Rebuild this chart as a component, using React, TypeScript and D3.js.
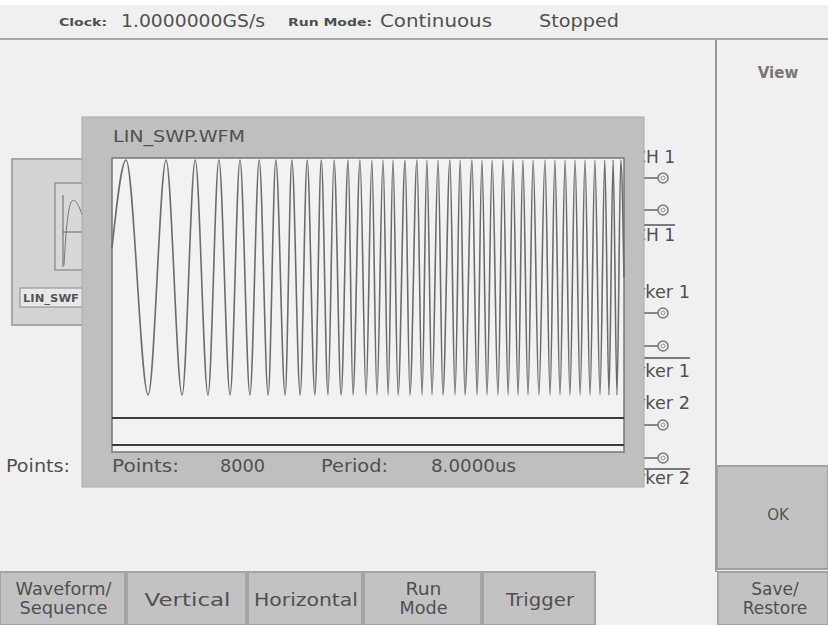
import * as React from 'react';
import * as d3 from 'd3';

// waveform record: LIN_SWP.WFM, 8000 points, linear frequency sweep
const totalPoints = 8000;
const startLevel = 0.25;
const endLevel = 0;
// sample index of each positive peak
const peakIndex = [220, 845, 1300, 1670, 2000, 2300, 2560, 2810, 3050, 3270, 3470, 3690, 3875, 4060, 4235, 4390,
  4580, 4765, 4920, 5095, 5280, 5440, 5625, 5780, 5940, 6110, 6265, 6420, 6580, 6765, 6920, 7080, 7235, 7390,
  7545, 7700, 7830, 7950];
// sample index of each negative peak
const troughIndex = [565, 1095, 1500, 1845, 2155, 2440, 2705, 2940, 3170, 3375, 3580, 3765, 3970, 4140, 4315,
  4470, 4655, 4845, 5000, 5170, 5360, 5515, 5705, 5860, 6030, 6190, 6345, 6500, 6670, 6845, 7000, 7155, 7315,
  7470, 7625, 7765, 7890];
const marker1 = [0, 0];
const marker2 = [0, 0];

const statusItems = [
  { label: 'Clock:', value: '1.0000000GS/s' },
  { label: 'Run Mode:', value: 'Continuous' },
];
const stateText = 'Stopped';
const bottomTabs = [['Waveform/', 'Sequence'], ['Vertical'], ['Horizontal'], ['Run', 'Mode'], ['Trigger']];
const channelLabels = ['CH 1', 'Marker 1', 'Marker 2'];
const infoRow = ['Points:', '8000', 'Period:', '8.0000us'];

const FONT = "'DejaVu Sans', 'Liberation Sans', sans-serif";
const TXT = '#505050';

export default function App() {
  const x = d3.scaleLinear().domain([0, totalPoints]).range([112, 624]);
  const y = d3.scaleLinear().domain([-1, 1]).range([395, 160]);
  const m1 = d3.scaleLinear().domain([0, 1]).range([418, 405]);
  const m2 = d3.scaleLinear().domain([0, 1]).range([445, 432]);

  const pts: [number, number][] = [[0, startLevel]];
  peakIndex.forEach((p, i) => {
    pts.push([p, 1]);
    if (i < troughIndex.length) pts.push([troughIndex[i], -1]);
  });
  pts.push([totalPoints, endLevel]);

  const line = d3.line<[number, number]>()
    .x(d => x(d[0]))
    .y(d => y(d[1]))
    .curve(d3.curveMonotoneX);

  const markerLine = (sc: d3.ScaleLinear<number, number>, vals: number[]) =>
    d3.line<number>().x((_, i) => x(i * totalPoints / (vals.length - 1))).y(v => sc(v))(vals) || '';

  const tabEdges = [0, 127, 248, 364, 483, 597];
  const tabTextW = [[96, 88], [86], [104], [36, 48], [68]];

  // side connector labels (mostly hidden behind the dialog)
  const sideGroups = [
    { top: 163, c1: 178, c2: 210, bar: 225, bottom: 241, end: 675, w: 41 },
    { top: 298, c1: 313, c2: 346, bar: 358, bottom: 377, end: 690, w: 78 },
    { top: 409, c1: 425, c2: 458, bar: 469, bottom: 484, end: 690, w: 78 },
  ];

  return (
    <svg width={828} height={625} style={{ position: 'absolute', left: 0, top: 0 }} fontFamily={FONT}>
      <rect x={0} y={0} width={828} height={625} fill="#f0f0f0" />
      <rect x={0} y={0} width={828} height={5} fill="#ffffff" />
      <line x1={0} x2={828} y1={39} y2={39} stroke="#a8a8a8" strokeWidth={2} />

      {/* status bar */}
      <text x={59} y={26} fontSize={11} fontWeight="bold" fill={TXT} textLength={48} lengthAdjust="spacingAndGlyphs">{statusItems[0].label}</text>
      <text x={121} y={27} fontSize={18} fill={TXT} textLength={144} lengthAdjust="spacingAndGlyphs">{statusItems[0].value}</text>
      <text x={288} y={26} fontSize={11} fontWeight="bold" fill={TXT} textLength={84} lengthAdjust="spacingAndGlyphs">{statusItems[1].label}</text>
      <text x={380} y={27} fontSize={18} fill={TXT} textLength={112} lengthAdjust="spacingAndGlyphs">{statusItems[1].value}</text>
      <text x={539} y={27} fontSize={18} fill={TXT} textLength={80} lengthAdjust="spacingAndGlyphs">{stateText}</text>

      {/* right view panel */}
      <line x1={716} x2={716} y1={40} y2={572} stroke="#9a9a9a" strokeWidth={2} />
      <text x={778} y={78} fontSize={15} fontWeight="bold" fill="#777" textAnchor="middle">View</text>
      <rect x={717} y={466} width={111} height={103} fill="#c2c2c2" stroke="#a0a0a0" strokeWidth={2} />
      <text x={778} y={520} fontSize={15} fill="#555" textAnchor="middle">OK</text>

      {/* background waveform thumbnail panel */}
      <rect x={12} y={159} width={120} height={166} fill="#d3d3d3" stroke="#a8a8a8" strokeWidth={2} />
      <rect x={55} y={183} width={60} height={87} fill="#d8d8d8" stroke="#777" strokeWidth={1} />
      <line x1={63} x2={63} y1={195} y2={267} stroke="#666" />
      <line x1={63} x2={110} y1={232} y2={232} stroke="#666" />
      <path d="M64,265 C66,230 68,205 72,201 C75,198 79,205 82,215" fill="none" stroke="#777" />
      <rect x={20} y={288} width={80} height={19} fill="#e8e8e8" stroke="#888" />
      <text x={23} y={302} fontSize={10} fontWeight="bold" fill="#555" textLength={56} lengthAdjust="spacingAndGlyphs">LIN_SWF</text>
      <text x={6} y={472} fontSize={18} fill={TXT} textLength={64} lengthAdjust="spacingAndGlyphs">Points:</text>

      {/* side connector labels */}
      {sideGroups.map((g, i) => (
        <g key={i} fill={TXT} stroke="none">
          <text x={g.end - g.w} y={g.top} fontSize={17} textLength={g.w} lengthAdjust="spacingAndGlyphs">{channelLabels[i]}</text>
          <text x={g.end - g.w} y={g.bottom} fontSize={17} textLength={g.w} lengthAdjust="spacingAndGlyphs">{channelLabels[i]}</text>
          <line x1={620} x2={g.end} y1={g.bar} y2={g.bar} stroke="#555" strokeWidth={1.5} />
          {[g.c1, g.c2].map(cy => (
            <g key={cy}>
              <line x1={640} x2={658} y1={cy} y2={cy} stroke="#666" strokeWidth={1.5} />
              <circle cx={663} cy={cy} r={5} fill="none" stroke="#777" strokeWidth={1.5} />
              <circle cx={663} cy={cy} r={2} fill="none" stroke="#999" />
            </g>
          ))}
        </g>
      ))}

      {/* dialog */}
      <rect x={82} y={117} width={562} height={370} fill="#bfbfbf" stroke="#aaa" strokeWidth={1} />
      <text x={113} y={142} fontSize={16} fill={TXT} textLength={132} lengthAdjust="spacingAndGlyphs">LIN_SWP.WFM</text>
      <rect x={112} y={158} width={512} height={294} fill="#f2f2f2" stroke="#777" strokeWidth={1.5} />
      <path d={line(pts) || ''} fill="none" stroke="#6c6c6c" strokeWidth={1.6} />
      <path d={markerLine(m1, marker1)} fill="none" stroke="#3c3c3c" strokeWidth={2} />
      <path d={markerLine(m2, marker2)} fill="none" stroke="#3c3c3c" strokeWidth={2} />

      <text x={112} y={472} fontSize={18} fill={TXT} textLength={67} lengthAdjust="spacingAndGlyphs">{infoRow[0]}</text>
      <text x={220} y={472} fontSize={18} fill={TXT} textLength={45} lengthAdjust="spacingAndGlyphs">{infoRow[1]}</text>
      <text x={321} y={472} fontSize={18} fill={TXT} textLength={67} lengthAdjust="spacingAndGlyphs">{infoRow[2]}</text>
      <text x={431} y={472} fontSize={18} fill={TXT} textLength={85} lengthAdjust="spacingAndGlyphs">{infoRow[3]}</text>

      {/* bottom menu buttons */}
      {bottomTabs.map((lines, i) => {
        const x0 = tabEdges[i];
        const x1 = i + 1 < tabEdges.length ? tabEdges[i + 1] : x0 + 114;
        const cx = (x0 + x1) / 2;
        return (
          <g key={i}>
            <rect x={x0} y={572} width={x1 - x0 - 2} height={53} fill="#c2c2c2" stroke="#a4a4a4" strokeWidth={2} />
            {lines.map((t, j) => (
              <text key={j} x={cx} y={lines.length === 1 ? 606 : 595 + j * 19} fontSize={17} fill={TXT}
                textAnchor="middle" textLength={tabTextW[i][j]} lengthAdjust="spacingAndGlyphs">{t}</text>
            ))}
          </g>
        );
      })}
      <rect x={718} y={572} width={110} height={53} fill="#c2c2c2" stroke="#a4a4a4" strokeWidth={2} />
      <text x={775} y={595} fontSize={17} fill={TXT} textAnchor="middle">Save/</text>
      <text x={775} y={614} fontSize={17} fill={TXT} textAnchor="middle">Restore</text>
    </svg>
  );
}
